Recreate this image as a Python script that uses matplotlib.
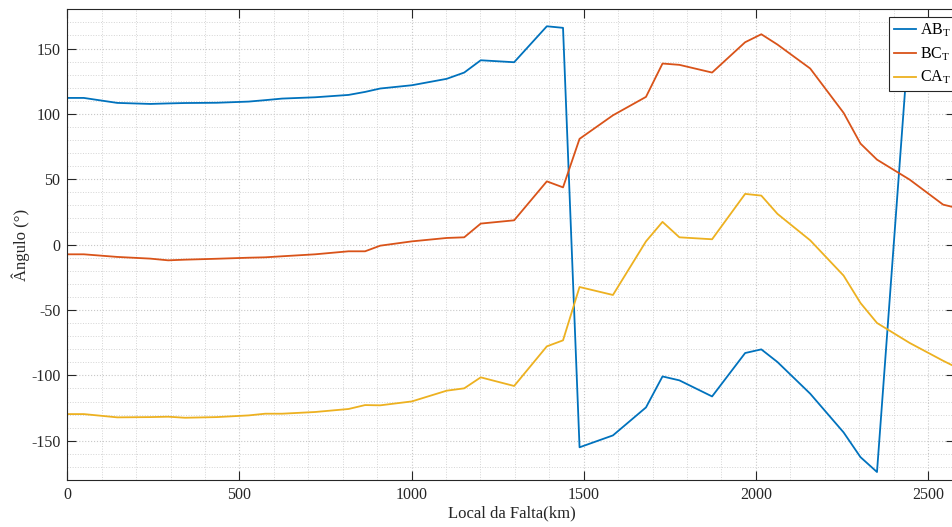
import numpy as np
import matplotlib.pyplot as plt
from matplotlib.ticker import MultipleLocator

plt.rcParams['font.family'] = ['Liberation Serif', 'DejaVu Serif']
plt.rcParams['mathtext.fontset'] = 'stix'
plt.rcParams['axes.unicode_minus'] = False

# fault location along the line (km)
local_km = [0, 48, 145, 241, 293, 342, 434, 527, 575, 624, 720, 817, 865, 909,
            1001, 1102, 1153, 1201, 1298, 1393, 1440, 1488, 1585, 1681, 1729,
            1778, 1873, 1969, 2016, 2063, 2158, 2255, 2304, 2352, 2447, 2544, 2580]

# angles (degrees) for each pair
ang_ab = [112.2, 112.2, 108.4, 107.6, 108.0, 108.3, 108.5, 109.4, 110.5, 111.7,
          112.7, 114.5, 116.8, 119.4, 121.9, 126.8, 131.6, 141.0, 139.5, 167.0,
          165.8, -155.0, -145.9, -124.5, -100.8, -103.8, -116.1, -82.9, -80.1,
          -89.8, -114.0, -143.6, -162.5, -173.9, 166.0, 160.0, 158.0]
ang_bc = [-7.4, -7.4, -9.4, -10.7, -12.0, -11.5, -10.8, -10.0, -9.7, -8.9,
          -7.4, -5.1, -5.1, -0.8, 2.5, 5.1, 5.6, 16.1, 18.6, 48.4,
          43.8, 80.9, 98.9, 113.0, 138.5, 137.5, 131.6, 154.8, 160.9,
          153.0, 134.7, 100.8, 77.3, 65.0, 49.7, 30.6, 28.3]
ang_ca = [-129.6, -129.6, -132.1, -131.9, -131.6, -132.4, -131.9, -130.6, -129.3, -129.3,
          -128.0, -125.7, -122.7, -122.9, -119.9, -111.7, -109.9, -101.5, -108.1, -77.8,
          -73.2, -32.4, -38.5, 2.5, 17.4, 5.6, 4.1, 38.8, 37.5,
          23.5, 3.3, -23.7, -44.6, -59.9, -75.2, -88.8, -93.5]

labels = [r'AB$_\mathregular{T}$', r'BC$_\mathregular{T}$', r'CA$_\mathregular{T}$']
colors = ['#0072BD', '#D95319', '#EDB120']

fig = plt.figure(figsize=(9.53, 5.27), dpi=100)
ax = fig.add_axes([0.0706, 0.0892, 0.932, 0.8932])

for y, lab, c in zip([ang_ab, ang_bc, ang_ca], labels, colors):
    ax.plot(local_km, y, color=c, lw=1.3, label=lab)

ax.set_xlim(0, 2580)
ax.set_ylim(-180, 180)
ax.xaxis.set_major_locator(MultipleLocator(500))
ax.xaxis.set_minor_locator(MultipleLocator(100))
ax.yaxis.set_minor_locator(MultipleLocator(10))
ax.set_yticks(np.arange(-150, 151, 50))

ax.grid(True, which='major', color='#c8c8c8', linestyle=':', lw=0.8)
ax.grid(True, which='minor', color='#d4d4d4', linestyle=':', lw=0.7)
ax.set_axisbelow(True)

ax.tick_params(which='major', direction='in', length=6.5, width=0.8,
               top=True, right=True, labelsize=11.5, colors='#262626', pad=5)
ax.tick_params(which='minor', length=0)
for s in ax.spines.values():
    s.set_color('#262626')
    s.set_linewidth(0.8)

ax.set_xlabel('Local da Falta(km)', fontsize=12, color='#262626', labelpad=2)
ax.set_ylabel('Ângulo (°)', fontsize=12, color='#262626', labelpad=1)

leg = ax.legend(loc='upper right', bbox_to_anchor=(1.0, 0.984), borderaxespad=0,
                fontsize=11.5, fancybox=False, framealpha=1, edgecolor='#262626',
                handlelength=1.35, handletextpad=0.25, borderpad=0.3, labelspacing=0.42)
leg.get_frame().set_linewidth(0.8)

fig.savefig('out.png', dpi=100)
